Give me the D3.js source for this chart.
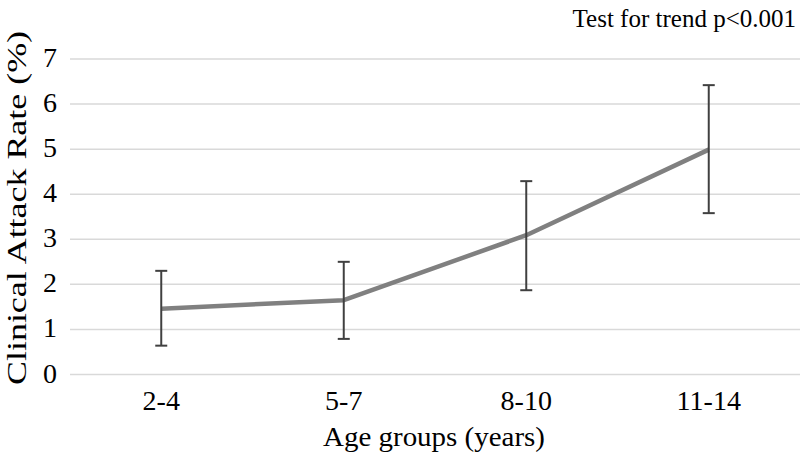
<!DOCTYPE html>
<html><head><meta charset="utf-8">
<script src="https://cdn.jsdelivr.net/npm/d3@7"></script>
<style>body{margin:0;background:#fff}svg{display:block}</style>
</head><body>
<svg id="c" width="800" height="456"></svg>
<script>
const categories = ["2-4", "5-7", "8-10", "11-14"];
const rates = [1.46, 1.65, 3.09, 4.99];
const lower = [0.64, 0.79, 1.87, 3.58];
const upper = [2.30, 2.50, 4.29, 6.42];
const yTicks = [0, 1, 2, 3, 4, 5, 6, 7];

(function () {
const svg = d3.select("#c");
const font = "'Liberation Serif', 'Times New Roman', serif";
const mLeft = 70, mRight = 800, mTop = 59, mBottom = 374.5;
const x = d3.scaleBand().domain(categories).range([mLeft, mRight]);
const y = d3.scaleLinear().domain([0, 7]).range([mBottom, mTop]);

svg.append("g").selectAll("line").data(yTicks).join("line")
  .attr("x1", mLeft).attr("x2", mRight)
  .attr("y1", d => y(d)).attr("y2", d => y(d))
  .attr("stroke", "#d9d9d9").attr("stroke-width", 1.5);

svg.append("g").selectAll("text").data(yTicks).join("text")
  .attr("x", 57).attr("y", d => y(d) + 8)
  .attr("text-anchor", "end").attr("font-family", font).attr("font-size", 28)
  .attr("fill", "#000").text(d => d);

svg.append("g").selectAll("text").data(categories).join("text")
  .attr("x", d => x(d) + x.bandwidth() / 2).attr("y", 410)
  .attr("text-anchor", "middle").attr("font-family", font).attr("font-size", 28)
  .attr("fill", "#000").text(d => d);

const cx = d => x(d) + x.bandwidth() / 2;
const line = d3.line().x((d, i) => cx(categories[i])).y(d => y(d));
svg.append("path").datum(rates).attr("d", line)
  .attr("fill", "none").attr("stroke", "#808080").attr("stroke-width", 4.5)
  .attr("stroke-linejoin", "round");

const eb = svg.append("g").attr("stroke", "#404040").attr("stroke-width", 2);
categories.forEach((c, i) => {
  eb.append("line").attr("x1", cx(c)).attr("x2", cx(c)).attr("y1", y(lower[i])).attr("y2", y(upper[i]));
  eb.append("line").attr("x1", cx(c) - 6).attr("x2", cx(c) + 6).attr("y1", y(lower[i])).attr("y2", y(lower[i]));
  eb.append("line").attr("x1", cx(c) - 6).attr("x2", cx(c) + 6).attr("y1", y(upper[i])).attr("y2", y(upper[i]));
});

svg.append("text").attr("x", 434).attr("y", 446)
  .attr("text-anchor", "middle").attr("font-family", font).attr("font-size", 28)
  .attr("textLength", 222).attr("lengthAdjust", "spacingAndGlyphs")
  .text("Age groups (years)");

svg.append("text").attr("transform", "translate(26,208) rotate(-90)")
  .attr("text-anchor", "middle").attr("font-family", font).attr("font-size", 28)
  .attr("textLength", 354).attr("lengthAdjust", "spacingAndGlyphs")
  .text("Clinical Attack Rate (%)");

svg.append("text").attr("x", 796).attr("y", 27)
  .attr("text-anchor", "end").attr("font-family", font).attr("font-size", 25)
  .text("Test for trend p<0.001");
})();
</script>
</body></html>
